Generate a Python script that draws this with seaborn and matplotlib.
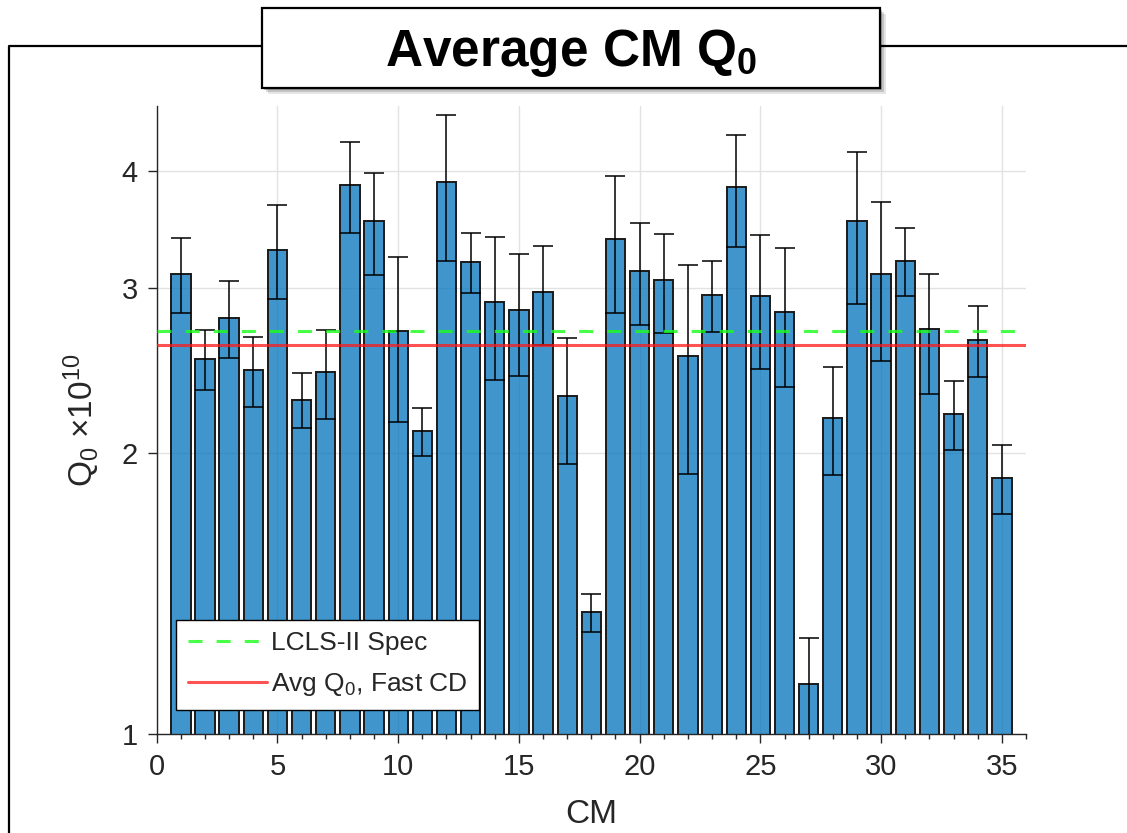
import numpy as np
import pandas as pd
import matplotlib
matplotlib.use("Agg")
import matplotlib.pyplot as plt
import seaborn as sns
from matplotlib.patches import Rectangle
from matplotlib.lines import Line2D
from matplotlib.ticker import MultipleLocator, NullLocator, FixedLocator
from matplotlib import font_manager

# ---------------- data ----------------
cm = list(range(1, 36))
q0 = [3.11, 2.52, 2.79, 2.45, 3.30, 2.28, 2.44, 3.87, 3.54, 2.70,
      2.11, 3.90, 3.20, 2.90, 2.84, 2.97, 2.30, 1.35, 3.39, 3.13,
      3.06, 2.54, 2.95, 3.85, 2.94, 2.83, 1.13, 2.18, 3.54, 3.11,
      3.21, 2.71, 2.20, 2.64, 1.88]
q0_err = [0.285, 0.185, 0.262, 0.212, 0.378, 0.155, 0.266, 0.436, 0.441, 0.542,
          0.125, 0.694, 0.235, 0.506, 0.426, 0.362, 0.356, 0.063, 0.569, 0.390,
          0.371, 0.640, 0.259, 0.526, 0.482, 0.479, 0.138, 0.288, 0.653, 0.600,
          0.268, 0.400, 0.188, 0.231, 0.160]
spec_q0 = 2.70
avg_fast_cd = 2.61
x_ticks = [0, 5, 10, 15, 20, 25, 30, 35]
y_ticks = [1, 2, 3, 4]
y_tick_labels = ["1", "2", "3", "4"]
title_text = r"Average CM Q$_\mathbf{0}$"
legend_labels = ["LCLS-II Spec", r"Avg Q$_0$, Fast CD"]

# ---------------- style ----------------
sns.set_theme(style="white")
names = {f.name for f in font_manager.fontManager.ttflist}
base = "Liberation Sans" if "Liberation Sans" in names else "DejaVu Sans"
narrow = "Liberation Sans Narrow" if "Liberation Sans Narrow" in names else base
plt.rcParams["font.family"] = [base, "DejaVu Sans"]
plt.rcParams["mathtext.fontset"] = "custom"
plt.rcParams["mathtext.rm"] = base
plt.rcParams["mathtext.it"] = base + ":italic"
plt.rcParams["mathtext.bf"] = narrow + ":bold"

W, H = 1127, 833
fig = plt.figure(figsize=(W / 100, H / 100), dpi=100)
fig.patch.set_facecolor("white")

def fx(px):
    return px / W

def fy(py):
    return 1 - py / H

# outer frame lines
fig.add_artist(Line2D([fx(9), fx(9), 1.0], [0.0, fy(46), fy(46)],
                      transform=fig.transFigure, color="black", lw=1.6, zorder=1))

ax_l, ax_r, ax_t, ax_b = 156.7, 1026, 106, 734
ax = fig.add_axes([fx(ax_l), fy(ax_b), fx(ax_r - ax_l), (ax_b - ax_t) / H])

df = pd.DataFrame({"CM": cm, "Q0": q0})
sns.barplot(data=df, x="CM", y="Q0", native_scale=True, width=0.8,
            color=(0, 0.447, 0.741), saturation=1, errorbar=None, ax=ax)
for p in ax.patches:
    p.set_facecolor((0, 0.447, 0.741, 0.75))
    p.set_edgecolor("#1a1a1a")
    p.set_linewidth(1.4)
    p.set_zorder(2)

ax.errorbar(df["CM"], df["Q0"], yerr=q0_err, fmt="none", ecolor="black",
            elinewidth=1.1, capsize=7, capthick=1.1, zorder=3)

ax.axhline(spec_q0, color=(0.1, 1.0, 0.1, 0.8), lw=2.2, dashes=(4.6, 4.6), zorder=4,
           label=legend_labels[0])
ax.axhline(avg_fast_cd, color=(1.0, 0.1, 0.1, 0.75), lw=2.2, zorder=4,
           label=legend_labels[1])

ax.set_yscale("log")
ax.set_ylim(1, 4.7)
ax.set_xlim(0, 36)
ax.yaxis.set_major_locator(FixedLocator(y_ticks))
ax.set_yticklabels(y_tick_labels)
ax.yaxis.set_minor_locator(NullLocator())
ax.xaxis.set_major_locator(FixedLocator(x_ticks))
ax.set_xticklabels([str(t) for t in x_ticks])
ax.xaxis.set_minor_locator(MultipleLocator(1))

ax.grid(True, which="major", color="#e2e2e2", lw=1)
ax.set_axisbelow(True)
for s in ["top", "right"]:
    ax.spines[s].set_visible(False)
for s in ["left", "bottom"]:
    ax.spines[s].set_color("#262626")
    ax.spines[s].set_linewidth(1)
ax.tick_params(which="major", direction="out", length=6.5, width=1, color="#262626",
               labelsize=21, labelcolor="#262626", bottom=True, left=True, pad=7)
ax.tick_params(which="minor", direction="out", length=3.6, width=1, color="#262626",
               bottom=True, left=False)

ax.set_xlabel("CM", fontsize=24, color="#262626", labelpad=13)
ax.set_ylabel(r"Q$_0$ $\times$10$^{10}$", fontsize=24, color="#262626", labelpad=14)

leg = ax.legend(loc="lower left", bbox_to_anchor=(0.022, 0.038), borderaxespad=0,
                fontsize=19, frameon=True, fancybox=False, framealpha=1,
                edgecolor="black", handlelength=3.0, handletextpad=0.15,
                borderpad=0.45, labelspacing=0.6)
leg.get_frame().set_linewidth(1.0)
leg.set_zorder(10)

# title box with shadow
bx0, bx1, by0, by1 = 262, 880, 8, 88
for i, a in enumerate([0.10, 0.15, 0.22]):
    off = 6 - 2 * i
    fig.add_artist(Rectangle((fx(bx0 + off), fy(by1 + off)), fx(bx1 - bx0), (by1 - by0) / H,
                             transform=fig.transFigure, facecolor=(0, 0, 0, a),
                             edgecolor="none", zorder=5))
fig.add_artist(Rectangle((fx(bx0), fy(by1)), fx(bx1 - bx0), (by1 - by0) / H,
                         transform=fig.transFigure, facecolor="white",
                         edgecolor="black", lw=1.6, zorder=6))
fig.text(fx((bx0 + bx1) / 2), fy(66), title_text, ha="center", va="baseline",
         fontsize=37, fontweight="bold", family=[narrow, base], color="black", zorder=7)

fig.savefig("out.png", dpi=100)
